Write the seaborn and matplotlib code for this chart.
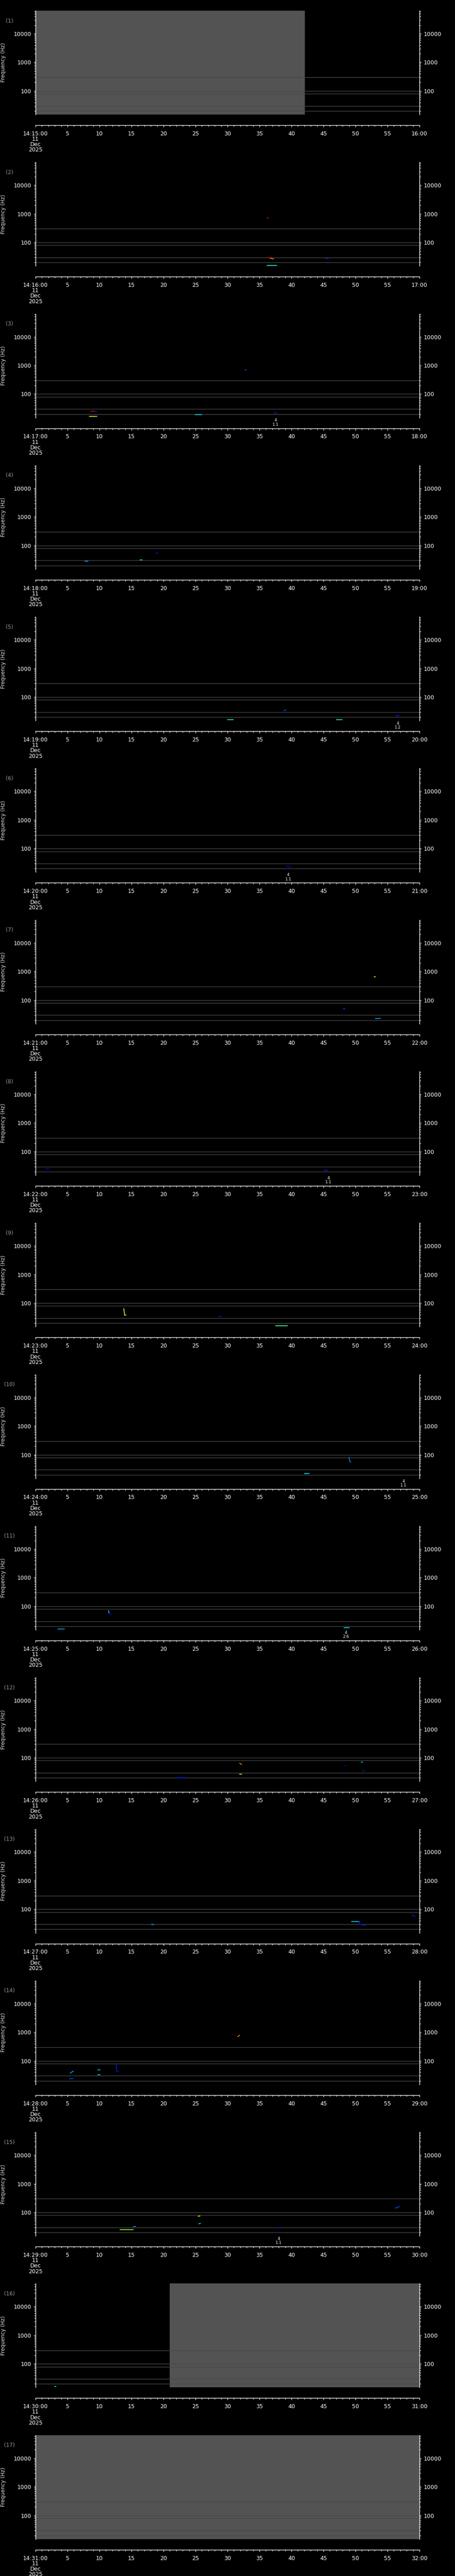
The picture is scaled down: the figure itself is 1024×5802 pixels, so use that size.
import numpy as np
import pandas as pd
import seaborn as sns
import matplotlib
matplotlib.use('Agg')
import matplotlib.pyplot as plt
from matplotlib.transforms import blended_transform_factory

# ---- data ---------------------------------------------------------------
n_panels = 17
start_minute = list(range(15, 32))          # each panel covers 14:MM:00 .. 14:MM+1:00
date_lines = ['11', 'Dec', '2025']

ref_lines_hz = [20, 30, 80, 100, 300]         # horizontal reference lines

# grey "no data" blocks (panel, t0 [s], t1 [s])
nodata_panel = [1, 16, 17]
nodata_t0 = [0.0, 21.0, 0.0]
nodata_t1 = [42.1, 60.0, 60.0]

# detected traces: panel, t0, t1, f0, f1 (Hz), colour level (jet 0..1)
ev_panel = [2, 2, 2, 2, 2,
            3, 3, 3, 3, 3, 3,
            4, 4, 4,
            5, 5, 5, 5,
            6,
            7, 7, 7,
            8, 8,
            9, 9, 9, 9,
            10, 10, 10,
            11, 11, 11, 11,
            12, 12, 12, 12, 12, 12,
            13, 13, 13, 13, 13,
            14, 14, 14, 14, 14, 14, 14,
            15, 15, 15, 15, 15, 15,
            16]
ev_t0 = [36.2, 36.2, 36.7, 45.3, 36.2,
         32.7, 8.6, 9.2, 8.4, 24.9, 37.3,
         7.7, 16.3, 18.8,
         38.8, 30.0, 47.0, 56.3,
         39.2,
         52.9, 48.1, 53.1,
         1.7, 45.1,
         13.8, 13.9, 28.7, 37.5,
         49.0, 49.1, 42.0,
         11.4, 11.5, 3.5, 48.2,
         31.9, 31.9, 48.3, 50.9, 51.1, 22.0,
         18.1, 49.4, 50.6, 50.7, 58.9,
         31.6, 5.4, 5.3, 9.7, 9.7, 12.6, 12.7,
         56.2, 25.4, 25.5, 15.3, 37.7, 13.2,
         3.0]
ev_t1 = [36.4, 36.7, 37.2, 45.8, 37.7,
         32.9, 9.2, 9.6, 9.6, 26.0, 37.7,
         8.2, 16.7, 19.1,
         39.2, 30.9, 47.9, 56.9,
         39.9,
         53.1, 48.3, 53.9,
         2.1, 45.6,
         13.9, 14.2, 29.0, 39.4,
         49.1, 49.3, 42.8,
         11.5, 11.9, 4.5, 49.0,
         32.2, 32.2, 48.5, 51.1, 51.4, 23.5,
         18.5, 50.6, 50.7, 51.5, 59.3,
         31.9, 5.9, 5.9, 10.1, 10.1, 12.7, 12.9,
         56.9, 25.7, 25.8, 15.6, 38.2, 15.3,
         3.2]
ev_f0 = [710, 30, 28.5, 27.5, 15.6,
         710, 24.5, 25, 16.4, 18.8, 21.8,
         28.7, 32, 55,
         33, 16.2, 16.2, 22,
         24,
         660, 50, 22.7,
         25.2, 22,
         65, 39, 34, 16.2,
         82, 60, 22,
         70, 55, 16, 17.7,
         65, 27, 53, 71, 36, 20,
         29.7, 38, 38, 30, 64,
         700, 37, 23.5, 48, 32.5, 73, 42,
         140, 73, 40, 32, 29, 25,
         16.5]
ev_f1 = [710, 28.5, 26.5, 27, 15.6,
         710, 25, 24, 16.4, 18.8, 21.8,
         28.2, 32, 55,
         36, 16.2, 16.2, 22,
         23,
         660, 50, 23,
         25, 22,
         39, 39, 34, 16.2,
         60, 55, 22,
         58, 52, 16, 17.7,
         58, 27, 52, 71, 35, 20,
         29.3, 38, 30, 27, 55,
         790, 44, 24, 48, 32.5, 42, 42,
         160, 75, 41, 32, 29, 25,
         16.5]
ev_c = [0.9, 0.9, 0.75, 0.15, 0.4,
        0.2, 0.9, 0.15, 0.6, 0.35, 0.15,
        0.3, 0.35, 0.15,
        0.2, 0.4, 0.4, 0.15,
        0.12,
        0.65, 0.2, 0.3,
        0.12, 0.15,
        0.6, 0.55, 0.15, 0.45,
        0.25, 0.25, 0.35,
        0.35, 0.1, 0.3, 0.35,
        0.75, 0.6, 0.1, 0.35, 0.15, 0.15,
        0.3, 0.35, 0.15, 0.15, 0.15,
        0.75, 0.3, 0.2, 0.35, 0.35, 0.15, 0.15,
        0.2, 0.65, 0.35, 0.3, 0.15, 0.55,
        0.4]

# small event annotations under the plot
ann_panel = [3, 5, 6, 8, 10, 11, 15]
ann_t = [37.5, 56.6, 39.5, 45.8, 57.5, 48.5, 38.0]
ann_text = ['4\n1.1', '4\n1.2', '4\n1.1', '4\n1.1', '4\n1.1', '4\n2.6', '4\n1.1']

# ---- style --------------------------------------------------------------
sns.set_theme(style='dark', rc={
    'figure.facecolor': 'black', 'axes.facecolor': 'black',
    'savefig.facecolor': 'black', 'text.color': 'white',
    'axes.labelcolor': 'white', 'xtick.color': 'white', 'ytick.color': 'white',
    'axes.edgecolor': 'white', 'axes.grid': False,
})
plt.rcParams['font.family'] = ['DejaVu Sans']

W, H = 1024, 5802
pitch = H / n_panels
ax_left, ax_right = 80, 944
plot_h = 234
top0 = 24

fig = plt.figure(figsize=(W / 100, H / 100), dpi=100)
jet = plt.cm.jet

events = pd.DataFrame({'panel': ev_panel, 't0': ev_t0, 't1': ev_t1,
                       'f0': ev_f0, 'f1': ev_f1, 'c': ev_c})

ymin, ymax = 15, 64000
minor_y = [m * 10 ** e for e in range(1, 5) for m in range(2, 10)
           if ymin <= m * 10 ** e <= ymax]

for k in range(1, n_panels + 1):
    top = top0 + pitch * (k - 1)
    ax = fig.add_axes([ax_left / W, 1 - (top + plot_h) / H,
                       (ax_right - ax_left) / W, plot_h / H])
    ax.set_yscale('log')
    ax.set_xlim(0, 60)
    ax.set_ylim(ymin, ymax)

    # no-data blocks
    for p, a, b in zip(nodata_panel, nodata_t0, nodata_t1):
        if p == k:
            ax.axvspan(a, b, color='#535353', lw=0, zorder=0)

    for f in ref_lines_hz:
        ax.axhline(f, color='#474747', lw=1.0, zorder=1)

    sub = events[events.panel == k]
    for _, r in sub.iterrows():
        sns.lineplot(x=[r.t0, r.t1], y=[r.f0, r.f1], color=jet(r.c),
                     lw=1.2, ax=ax, estimator=None, sort=False, zorder=3)

    tr = blended_transform_factory(ax.transData, ax.transAxes)
    for p, t, s in zip(ann_panel, ann_t, ann_text):
        if p == k:
            ax.text(t, -0.008, s, transform=tr, ha='center', va='top',
                    fontsize=6.5, color='white', linespacing=1.05)

    # spines
    ax.spines['top'].set_visible(False)
    for s in ['left', 'right', 'bottom']:
        ax.spines[s].set_visible(True)
        ax.spines[s].set_color('white')
        ax.spines[s].set_linewidth(1.0)
    ax.spines['bottom'].set_position(('outward', 17.3))

    # y ticks
    ax.set_yticks([100, 1000, 10000], ['100', '1000', '10000'])
    ax.set_yticks(minor_y, minor=True)
    ax.yaxis.set_minor_formatter(plt.NullFormatter())
    ax.tick_params(axis='y', which='both', left=True, right=True,
                   labelleft=True, labelright=True, direction='out',
                   colors='white', labelsize=9)
    ax.tick_params(axis='y', which='major', length=3.2, width=0.9, pad=3.5)
    ax.tick_params(axis='y', which='minor', length=2.0, width=0.8)

    # x ticks
    m = start_minute[k - 1]
    xlabels = ['14:%02d:00\n' % m + '\n'.join(date_lines)]
    xlabels += [str(s) for s in range(5, 60, 5)]
    xlabels += ['%02d:00' % (m + 1)]
    ax.set_xticks(list(range(0, 61, 5)), xlabels)
    ax.set_xticks(list(range(0, 61)), minor=True)
    ax.tick_params(axis='x', which='both', bottom=True, direction='out',
                   colors='white', labelsize=9)
    ax.tick_params(axis='x', which='major', length=3.2, width=0.9, pad=6)
    ax.tick_params(axis='x', which='minor', length=2.2, width=0.8)
    for lab in ax.get_xticklabels():
        lab.set_linespacing(0.92)
        lab.set_va('top')

    ax.set_ylabel('Frequency (Hz)', fontsize=8.5, color='#e0e0e0')
    ax.yaxis.set_label_coords((14 - ax_left) / (ax_right - ax_left), 0.5)
    ax.set_xlabel('')

    ax.text((21 - ax_left) / (ax_right - ax_left), 1 - 23 / plot_h,
            '(%d)' % k, transform=ax.transAxes, ha='center', va='center',
            fontsize=8.5, color='#9a9a9a')

fig.savefig('out.png', dpi=100, facecolor='black')
